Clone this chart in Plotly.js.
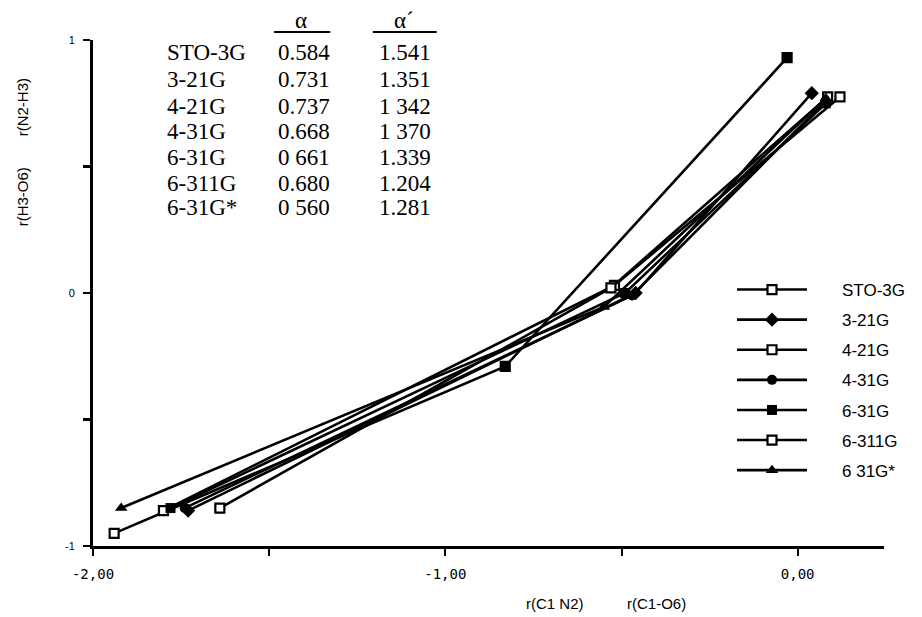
<!DOCTYPE html>
<html>
<head>
<meta charset="utf-8">
<script src="https://cdn.plot.ly/plotly-3.0.1.min.js"></script>
<style>
  html, body { margin: 0; padding: 0; background: #ffffff; }
  #chart { width: 922px; height: 617px; }
</style>
</head>
<body>
<div id="chart"></div>
<script>
// ---- data ----
const seriesNames = ["STO-3G", "3-21G", "4-21G", "4-31G", "6-31G", "6-311G", "6 31G*"];

const xSTO3G  = [-1.94, -0.83, -0.03];
const ySTO3G  = [-0.95, -0.29,  0.93];
const x321G   = [-1.73, -0.46,  0.04];
const y321G   = [-0.86,  0.00,  0.79];
const x421G   = [-1.80, -0.52,  0.12];
const y421G   = [-0.86,  0.03,  0.775];
const x431G   = [-1.74, -0.47,  0.08];
const y431G   = [-0.85, -0.01,  0.76];
const x631G   = [-1.78, -0.49,  0.08];
const y631G   = [-0.85,  0.00,  0.75];
const x6311G  = [-1.64, -0.53,  0.085];
const y6311G  = [-0.85,  0.02,  0.775];
const x631Gs  = [-1.92, -0.55,  0.08];
const y631Gs  = [-0.85, -0.055, 0.77];

const tableNames      = ["STO-3G", "3-21G", "4-21G", "4-31G", "6-31G", "6-311G", "6-31G*"];
const alphaValues     = ["0.584", "0.731", "0.737", "0.668", "0 661", "0.680", "0 560"];
const alphaPrimeValues= ["1.541", "1.351", "1 342", "1 370", "1.339", "1.204", "1.281"];

const xTickVals = [-2, -1.5, -1, -0.5, 0];
const xTickText = ["-2,00", "", "-1,00", "", "0,00"];
const yTickVals = [-1, -0.5, 0, 0.5, 1];
const yTickText = ["-1", "", "0", "", "1"];

// ---- styling ----
const seriesX = [xSTO3G, x321G, x421G, x431G, x631G, x6311G, x631Gs];
const seriesY = [ySTO3G, y321G, y421G, y431G, y631G, y6311G, y631Gs];
const markerStyles = [
  {symbol: "square",      size: 9,  color: ["#ffffff", "#000000", "#000000"], line: {color: "#000", width: 2.2}},
  {symbol: "diamond",     size: 11, color: "#000000", line: {color: "#000", width: 0}},
  {symbol: "square",      size: 9,  color: "#ffffff", line: {color: "#000", width: 2.2}},
  {symbol: "circle",      size: 10, color: "#000000", line: {color: "#000", width: 0}},
  {symbol: "square",      size: 10, color: "#000000", line: {color: "#000", width: 0}},
  {symbol: "square",      size: 9,  color: "#ffffff", line: {color: "#000", width: 2.2}},
  {symbol: "triangle-up", size: 11, color: "#000000", line: {color: "#000", width: 0}}
];

const traces = seriesNames.map((name, i) => ({
  type: "scatter",
  mode: "lines+markers",
  name: name,
  legendgroup: name,
  x: seriesX[i],
  y: seriesY[i],
  line: {color: "#000000", width: 2.6},
  marker: markerStyles[i],
  hoverinfo: "x+y+name"
}));

// pixel helpers for layout positions (plot area 93..910 x 40..546)
const L = 93, R = 910, T = 40, B = 546;
const px2x = p => (p - L) / (R - L);
const px2y = p => (B - p) / (B - T);

const serif = "Liberation Serif, Times New Roman, serif";
const sans = "Liberation Sans, Arial, sans-serif";

const annotations = [];
const rowY = [53, 79, 106, 132, 157, 183, 208];
tableNames.forEach((n, i) => {
  annotations.push({xref: "paper", yref: "paper", x: px2x(167), y: px2y(rowY[i]), xanchor: "left", yanchor: "middle",
    text: n, showarrow: false, font: {family: serif, size: 23, color: "#000"}});
  annotations.push({xref: "paper", yref: "paper", x: px2x(282), y: px2y(rowY[i]), xanchor: "left", yanchor: "middle",
    text: alphaValues[i], showarrow: false, font: {family: serif, size: 23, color: "#000"}});
  annotations.push({xref: "paper", yref: "paper", x: px2x(386), y: px2y(rowY[i]), xanchor: "left", yanchor: "middle",
    text: alphaPrimeValues[i], showarrow: false, font: {family: serif, size: 23, color: "#000"}});
});
annotations.push({xref: "paper", yref: "paper", x: px2x(308), y: px2y(21), xanchor: "center", yanchor: "middle",
  text: "α", showarrow: false, font: {family: serif, size: 23, color: "#000"}});
annotations.push({xref: "paper", yref: "paper", x: px2x(414), y: px2y(21), xanchor: "center", yanchor: "middle",
  text: "α´", showarrow: false, font: {family: serif, size: 23, color: "#000"}});

// axis titles
annotations.push({xref: "paper", yref: "paper", x: px2x(570), y: px2y(603), xanchor: "center", yanchor: "middle",
  text: "r(C1 N2)", showarrow: false, font: {family: sans, size: 15, color: "#000"}});
annotations.push({xref: "paper", yref: "paper", x: px2x(675), y: px2y(603), xanchor: "center", yanchor: "middle",
  text: "r(C1-O6)", showarrow: false, font: {family: sans, size: 15, color: "#000"}});
annotations.push({xref: "paper", yref: "paper", x: px2x(20), y: px2y(107), xanchor: "center", yanchor: "middle",
  text: "r(N2-H3)", textangle: -90, showarrow: false, font: {family: sans, size: 15, color: "#000"}});
annotations.push({xref: "paper", yref: "paper", x: px2x(20), y: px2y(197), xanchor: "center", yanchor: "middle",
  text: "r(H3-O6)", textangle: -90, showarrow: false, font: {family: sans, size: 15, color: "#000"}});

const shapes = [
  {type: "line", xref: "paper", yref: "paper", x0: px2x(280), x1: px2x(338), y0: px2y(32), y1: px2y(32), line: {color: "#000", width: 2}},
  {type: "line", xref: "paper", yref: "paper", x0: px2x(382), x1: px2x(448), y0: px2y(32), y1: px2y(32), line: {color: "#000", width: 2}}
];

const layout = {
  width: 922, height: 617,
  margin: {l: L, r: 922 - R, t: T, b: 617 - B, pad: 0},
  paper_bgcolor: "#ffffff",
  plot_bgcolor: "#ffffff",
  showlegend: true,
  xaxis: {
    range: [-2, 0.245],
    tickvals: xTickVals, ticktext: xTickText,
    ticks: "outside", ticklen: 7, tickwidth: 2, tickcolor: "#000",
    showline: true, linewidth: 3, linecolor: "#000",
    showgrid: false, zeroline: false,
    tickfont: {family: "DejaVu Sans Mono, monospace", size: 14, color: "#000"},
    ticklabelstandoff: 6
  },
  yaxis: {
    range: [-1, 1],
    tickvals: yTickVals, ticktext: yTickText,
    ticks: "outside", ticklen: 7, tickwidth: 2.5, tickcolor: "#000",
    showline: true, linewidth: 3, linecolor: "#000",
    showgrid: false, zeroline: false,
    tickfont: {family: sans, size: 11, color: "#000"},
    ticklabelstandoff: 6
  },
  legend: {
    x: px2x(753), y: px2y(272), xanchor: "left", yanchor: "top",
    font: {family: sans, size: 17, color: "#000"},
    bgcolor: "rgba(0,0,0,0)", borderwidth: 0,
    traceorder: "grouped", tracegroupgap: 5,
    itemwidth: 100
  },
  annotations: annotations,
  shapes: shapes
};

function stretchLegend(gd) {
  const lines = gd.querySelectorAll(".legend .legendlines path");
  lines.forEach(p => p.setAttribute("d", "M5,0h70"));
  const pts = gd.querySelectorAll(".legend .legendpoints path.scatterpts");
  pts.forEach(p => p.setAttribute("transform", "translate(40,0)"));
}

Plotly.newPlot("chart", traces, layout, {staticPlot: true, displayModeBar: false}).then(gd => {
  stretchLegend(gd);
  gd.on("plotly_afterplot", () => stretchLegend(gd));
});
</script>
</body>
</html>
